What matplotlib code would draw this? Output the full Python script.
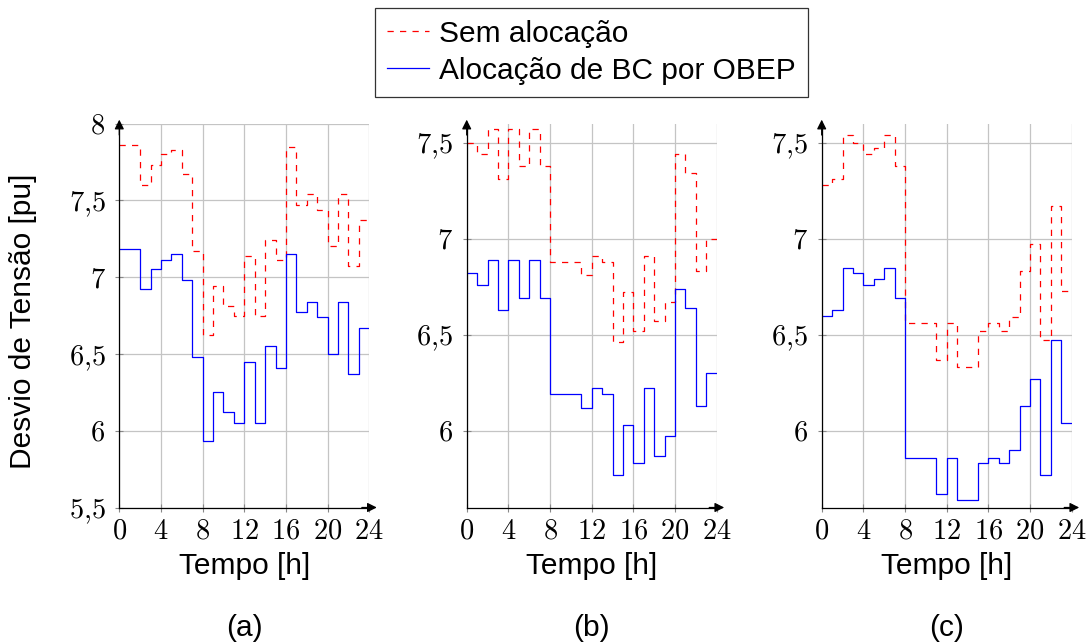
import numpy as np
import matplotlib
matplotlib.use("Agg")
import matplotlib.pyplot as plt
from matplotlib.lines import Line2D

plt.rcParams['mathtext.fontset'] = 'cm'
plt.rcParams['font.family'] = ['Liberation Sans', 'DejaVu Sans']

hours = np.arange(0, 25)

# (a)
sem_a = [7.86, 7.86, 7.60, 7.73, 7.80, 7.83, 7.67, 7.17, 6.62, 6.94, 6.81, 6.75,
         7.14, 6.75, 7.24, 7.11, 7.85, 7.47, 7.54, 7.44, 7.20, 7.54, 7.07, 7.37]
obep_a = [7.18, 7.18, 6.92, 7.05, 7.11, 7.15, 6.98, 6.48, 5.93, 6.25, 6.12, 6.05,
          6.45, 6.05, 6.55, 6.41, 7.15, 6.77, 6.84, 6.74, 6.50, 6.84, 6.37, 6.67]
# (b)
sem_b = [7.50, 7.44, 7.57, 7.31, 7.57, 7.38, 7.57, 7.38, 6.88, 6.88, 6.88, 6.81,
         6.91, 6.88, 6.46, 6.72, 6.52, 6.91, 6.57, 6.67, 7.44, 7.34, 6.83, 7.00]
obep_b = [6.82, 6.76, 6.89, 6.63, 6.89, 6.69, 6.89, 6.69, 6.19, 6.19, 6.19, 6.12,
          6.22, 6.19, 5.77, 6.03, 5.83, 6.22, 5.87, 5.97, 6.74, 6.64, 6.13, 6.30]
# (c)
sem_c = [7.28, 7.31, 7.54, 7.50, 7.44, 7.47, 7.54, 7.38, 6.56, 6.56, 6.56, 6.37,
         6.56, 6.33, 6.33, 6.52, 6.56, 6.52, 6.59, 6.83, 6.97, 6.47, 7.17, 6.73]
obep_c = [6.60, 6.63, 6.85, 6.82, 6.76, 6.79, 6.85, 6.69, 5.86, 5.86, 5.86, 5.67,
          5.86, 5.64, 5.64, 5.83, 5.86, 5.83, 5.90, 6.13, 6.27, 5.77, 6.47, 6.04]

panels = [
    ('(a)', sem_a, obep_a, (5.5, 8.0), [5.5, 6, 6.5, 7, 7.5, 8]),
    ('(b)', sem_b, obep_b, (5.6, 7.6), [6, 6.5, 7, 7.5]),
    ('(c)', sem_c, obep_c, (5.6, 7.6), [6, 6.5, 7, 7.5]),
]
lefts = [119.3, 466.7, 821.7]

W, H = 1089, 643
fig = plt.figure(figsize=(W / 100, H / 100), dpi=100)


def fmt(v):
    s = ('%g' % v).replace('.', '{,}')
    return '$' + s + '$'


for (tag, sem, obep, ylim, yt), left in zip(panels, lefts):
    ax = fig.add_axes([left / W, (H - 507.5) / H, 250 / W, 384 / H])
    ax.step(hours, sem + [sem[-1]], where='post', color='#ff0000',
            lw=0.9, dashes=(5, 5))
    ax.step(hours, obep + [obep[-1]], where='post', color='#0000ff', lw=0.9)
    ax.set_xlim(0, 24)
    ax.set_ylim(*ylim)
    ax.set_xticks(range(0, 25, 4))
    ax.set_xticklabels([fmt(v) for v in range(0, 25, 4)])
    ax.set_yticks(yt)
    ax.set_yticklabels([fmt(v) for v in yt])
    ax.grid(True, color='#c4c4c4', lw=0.9)
    ax.set_axisbelow(True)
    for s in ('top', 'right'):
        ax.spines[s].set_visible(False)
    for s in ('left', 'bottom'):
        ax.spines[s].set_linewidth(0.9)
    ax.tick_params(direction='inout', length=6, width=0.8, color='#888888',
                   labelsize=20.5, pad=5)
    ax.tick_params(axis='y', pad=7)
    # axis arrows
    ax.annotate('', xy=(1.03, 0), xytext=(0.97, 0), xycoords='axes fraction',
                arrowprops=dict(arrowstyle='-|>', color='k', lw=0.9,
                                mutation_scale=14, shrinkA=0, shrinkB=0))
    ax.annotate('', xy=(0, 1.01), xytext=(0, 0.97), xycoords='axes fraction',
                arrowprops=dict(arrowstyle='-|>', color='k', lw=0.9,
                                mutation_scale=14, shrinkA=0, shrinkB=0))
    ax.set_xlabel('Tempo [h]', fontsize=21.5, labelpad=5)
    if tag == '(a)':
        ax.set_ylabel('Desvio de Tensão [pu]', fontsize=21.5)
        ax.yaxis.set_label_coords(37 / W, 0.5, transform=fig.transFigure)
    fig.text((left + 125) / W, (H - 628) / H, tag, fontsize=21.5,
             ha='center', va='center')

handles = [Line2D([], [], color='#ff0000', lw=0.9, dashes=(5, 5)),
           Line2D([], [], color='#0000ff', lw=0.9)]
leg = fig.legend(handles, ['Sem alocação', 'Alocação de BC por OBEP'],
                 loc='upper left', bbox_to_anchor=(375 / W, 1 - 8 / H),
                 fontsize=21.5, frameon=True, fancybox=False, edgecolor='black',
                 handlelength=1.4, handletextpad=0.35, borderpad=0.4,
                 labelspacing=0.3, borderaxespad=0)
leg.get_frame().set_linewidth(0.9)

fig.savefig('out.png', dpi=100)
